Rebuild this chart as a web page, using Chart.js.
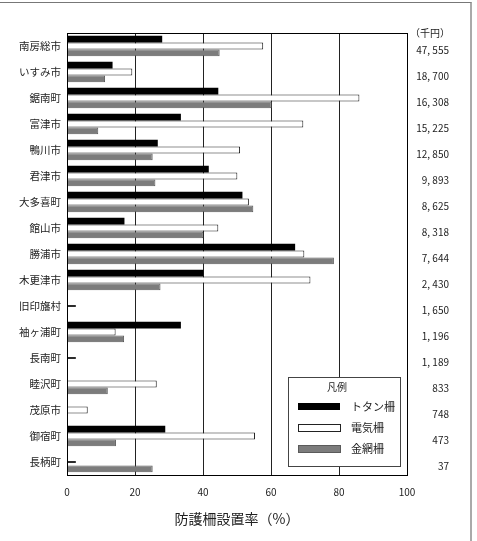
<!DOCTYPE html>
<html>
<head>
<meta charset="utf-8">
<script src="https://cdn.jsdelivr.net/npm/chart.js@4"></script>
<style>
  html, body { margin: 0; padding: 0; background: #fff; }
  #wrap { position: relative; width: 477px; height: 541px; }
  #frame { position: absolute; left: 0; top: 2px; width: 470px; height: 545px;
           border-top: 1px solid #777; border-right: 2px solid #aaa; pointer-events: none; }
</style>
</head>
<body>
<div id="wrap">
  <canvas id="chart" width="477" height="541"></canvas>
  <div id="frame"></div>
</div>
<script>
// 防護柵設置率 by municipality
const towns = ['南房総市', 'いすみ市', '鋸南町', '富津市', '鴨川市', '君津市', '大多喜町', '館山市', '勝浦市',
  '木更津市', '旧印旛村', '袖ヶ浦町', '長南町', '睦沢町', '茂原市', '御宿町', '長柄町'];
const tintan = [28.0, 13.4, 44.5, 33.5, 26.7, 41.7, 51.6, 16.9, 67.1, 40.1, null, 33.5, null, null, null, 28.9, null];
const denki = [57.7, 19.2, 86.0, 69.5, 50.9, 50.1, 53.5, 44.5, 69.8, 71.6, null, 14.3, null, 26.4, 6.1, 55.3, null];
const kanaami = [44.9, 11.2, 60.2, 9.2, 25.2, 26.0, 54.8, 40.1, 78.5, 27.5, null, 16.8, null, 12.0, null, 14.4, 25.2];
const dashes = [null, null, null, null, null, null, null, null, null, null, 2.5, null, 2.5, null, null, null, 2.5];
const damage = [47555, 18700, 16308, 15225, 12850, 9893, 8625, 8318, 7644, 2430, 1650, 1196, 1189, 833, 748, 473, 37];
const xTicks = [0, 20, 40, 60, 80, 100];

const jp = '"Noto Sans CJK JP", "Noto Sans", sans-serif';

// frame round plot + right-hand money column + legend box
const extras = {
  id: 'extras',
  afterDraw(chart) {
    const ctx = chart.ctx;
    const a = chart.chartArea;
    const y = chart.scales.y;
    ctx.save();
    ctx.strokeStyle = '#000';
    ctx.lineWidth = 1;
    ctx.strokeRect(a.left + 0.5, a.top + 0.5, a.right - a.left, a.bottom - a.top);

    ctx.fillStyle = '#222';
    ctx.font = '10px ' + jp;
    ctx.textAlign = 'right';
    ctx.textBaseline = 'middle';
    ctx.fillText('（千円）', 450, 33);
    damage.forEach((v, i) => {
      const txt = v.toLocaleString('en-US').replace(',', ', ');
      ctx.fillText(txt, 449, y.getPixelForValue(i) + 4);
    });

    // legend
    ctx.fillStyle = '#fff';
    ctx.fillRect(288, 377, 112, 89);
    ctx.strokeStyle = '#444';
    ctx.strokeRect(288.5, 377.5, 112, 89);
    ctx.fillStyle = '#222';
    ctx.textAlign = 'center';
    ctx.font = '10px ' + jp;
    ctx.fillText('凡例', 337, 387);
    ctx.textAlign = 'left';
    ctx.font = '11px ' + jp;
    const rows = [406.5, 428, 449];
    chart.data.datasets.slice(0, 3).forEach((ds, i) => {
      const cy = rows[i];
      ctx.fillStyle = ds.backgroundColor;
      ctx.fillRect(298, cy - 3.5, 42, 7);
      if (ds.borderWidth) {
        ctx.strokeStyle = ds.borderColor;
        ctx.strokeRect(298.5, cy - 3.5, 42, 7);
      }
      ctx.fillStyle = '#222';
      ctx.fillText(ds.label, 351, cy);
    });
    ctx.restore();
  }
};

new Chart(document.getElementById('chart'), {
  type: 'bar',
  data: {
    labels: towns,
    datasets: [
      { label: 'トタン柵', data: tintan, backgroundColor: '#000', borderWidth: 0 },
      { label: '電気柵', data: denki, backgroundColor: '#fff', borderColor: '#222', borderWidth: 1 },
      { label: '金網柵', data: kanaami, backgroundColor: '#7c7c7c', borderColor: '#5a5a5a', borderWidth: 1 },
      { label: '', data: dashes, backgroundColor: '#000', borderWidth: 0, grouped: false, barThickness: 1 }
    ]
  },
  options: {
    indexAxis: 'y',
    responsive: false,
    animation: false,
    categoryPercentage: 0.78,
    barPercentage: 1.0,
    layout: { padding: { top: 33, right: 70, bottom: 0, left: 0 } },
    plugins: { legend: { display: false }, tooltip: { enabled: false } },
    scales: {
      x: {
        min: 0, max: 100,
        afterBuildTicks: s => { s.ticks = xTicks.map(v => ({ value: v })); },
        afterFit: s => { s.height = 66; },
        grid: { color: '#222', drawTicks: false },
        border: { color: '#000' },
        ticks: { padding: 11, color: '#222', font: { family: jp, size: 10 } },
        title: { display: true, text: '防護柵設置率（%）', color: '#222',
                 font: { family: jp, size: 14 }, padding: { top: 0, bottom: 14 } }
      },
      y: {
        afterFit: s => { s.width = 67; },
        grid: { display: false, drawTicks: false },
        border: { color: '#000' },
        ticks: { padding: 6, color: '#222', font: { family: jp, size: 10.5 } }
      }
    }
  },
  plugins: [extras]
});
</script>
</body>
</html>
